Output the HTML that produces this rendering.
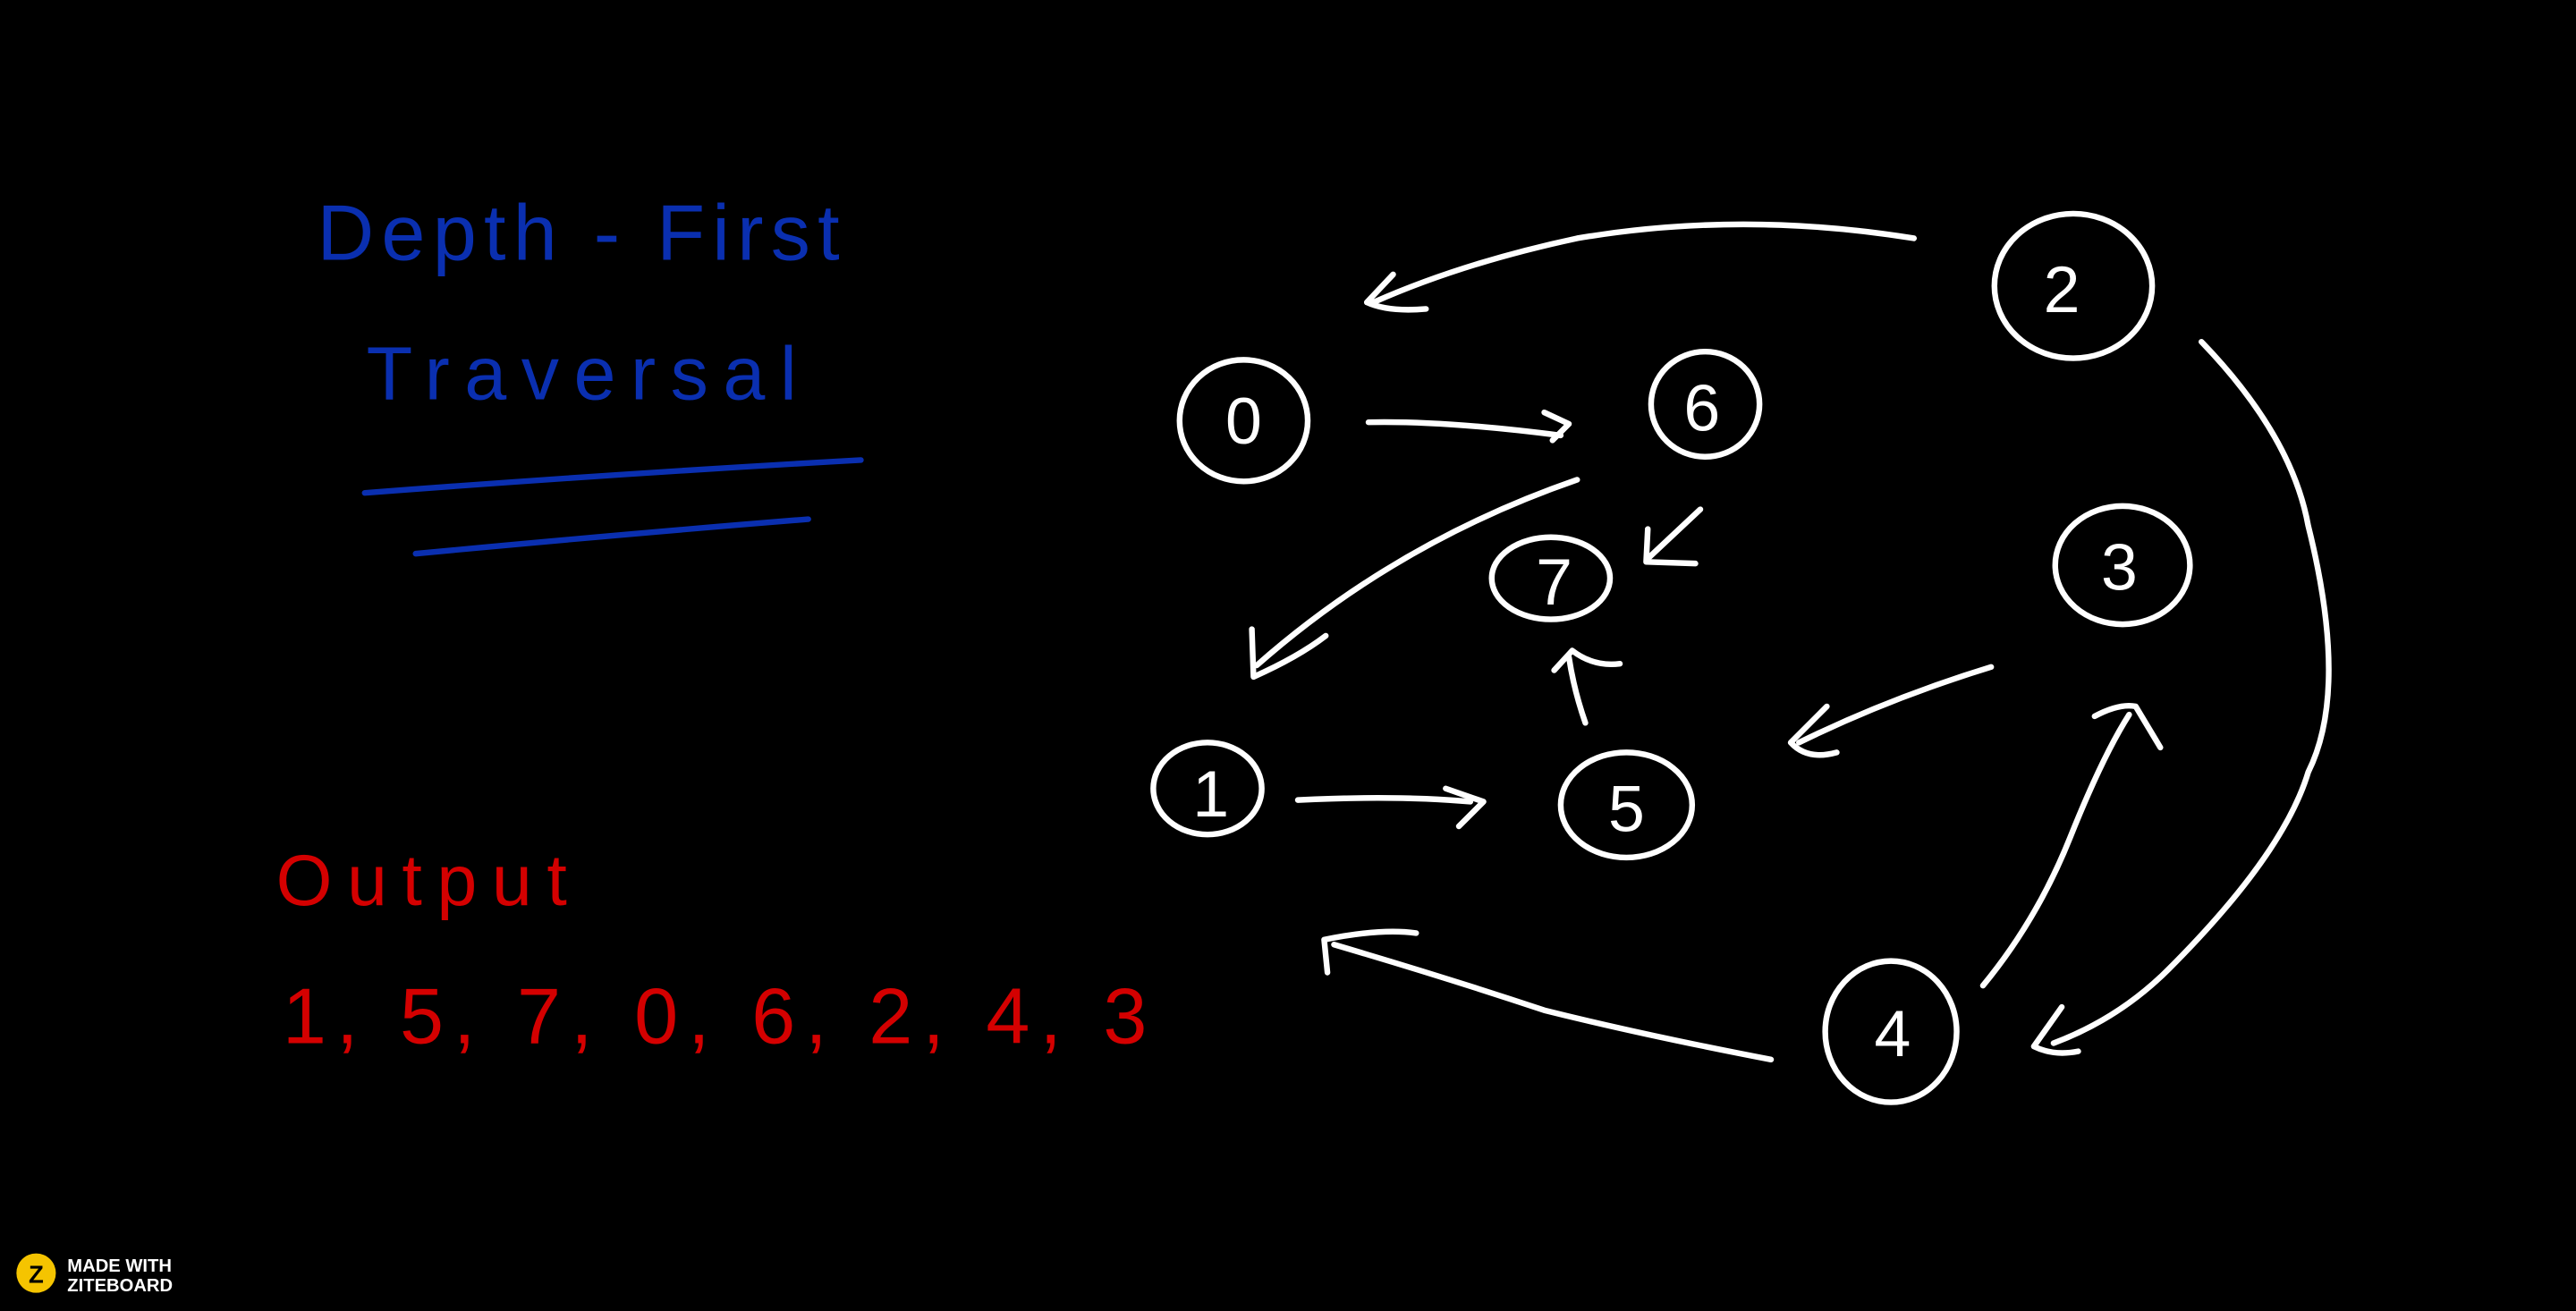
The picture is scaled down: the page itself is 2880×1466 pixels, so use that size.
<!DOCTYPE html>
<html>
<head>
<meta charset="utf-8">
<style>
html,body{margin:0;padding:0;background:#000;}
body{width:2880px;height:1466px;overflow:hidden;}
svg{display:block;}
text{font-family:"Liberation Sans",sans-serif;}
</style>
</head>
<body>
<svg width="2880" height="1466" viewBox="0 0 1568 798" xmlns="http://www.w3.org/2000/svg">
<rect width="1568" height="798" fill="#000"/>
<text x="193" y="158" font-size="48" fill="#0a2fb0" letter-spacing="4.5">Depth - First</text>
<text x="223" y="243" font-size="46" fill="#0a2fb0" letter-spacing="9">Traversal</text>
<g stroke="#0a2fb0" stroke-width="3.5" fill="none" stroke-linecap="round">
<path d="M222 300 Q380 288 524 280"/>
<path d="M253 337 Q380 325 492 316"/>
</g>
<text x="168" y="551" font-size="44" fill="#d40000" letter-spacing="9">Output</text>
<text x="172" y="635" font-size="48" fill="#d40000" letter-spacing="6">1, 5, 7, 0, 6, 2, 4, 3</text>
<g stroke="#fff" stroke-width="3.5" fill="none" stroke-linecap="round" stroke-linejoin="round">
<ellipse cx="757" cy="256" rx="39" ry="37"/>
<ellipse cx="1038" cy="246" rx="33" ry="32"/>
<ellipse cx="1262" cy="174" rx="48" ry="44"/>
<ellipse cx="944" cy="352" rx="36" ry="25"/>
<ellipse cx="1292" cy="344" rx="41" ry="36"/>
<ellipse cx="735" cy="480" rx="33" ry="28"/>
<ellipse cx="990" cy="490" rx="40" ry="32"/>
<ellipse cx="1151" cy="628" rx="40" ry="43"/>
<path d="M1165 145 Q1060 128 960 145 Q890 160 836 184"/>
<path d="M848 167 L832 184 Q845 190 868 188"/>
<path d="M833 257 Q880 256 950 265"/>
<path d="M940 251 L955 258 L945 268"/>
<path d="M960 292 Q850 330 765 405"/>
<path d="M762 383 L763 412 Q790 400 807 387"/>
<path d="M1035 310 L1003 340"/>
<path d="M1003 322 L1002 342 L1032 343"/>
<path d="M965 440 Q958 420 955 400"/>
<path d="M946 408 L957 396 Q970 406 986 404"/>
<path d="M790 487 Q850 484 895 488"/>
<path d="M880 480 L903 488 L888 503"/>
<path d="M1212 406 Q1150 425 1095 452"/>
<path d="M1112 430 L1090 452 Q1100 463 1118 458"/>
<path d="M1340 208 Q1395 265 1405 320 Q1430 420 1405 470 Q1390 520 1320 590 Q1290 620 1250 635"/>
<path d="M1255 613 L1238 637 Q1250 643 1265 640"/>
<path d="M1207 600 Q1240 560 1260 510 Q1280 460 1296 435"/>
<path d="M1275 436 Q1290 428 1300 430 L1315 455"/>
<path d="M1078 645 Q1000 630 940 615 Q880 595 812 575"/>
<path d="M808 592 L806 572 Q840 565 862 568"/>
</g>
<g fill="#fff" font-size="40" text-anchor="middle">
<text x="757" y="270">0</text>
<text x="1036" y="262">6</text>
<text x="1255" y="190">2</text>
<text x="946" y="368">7</text>
<text x="1290" y="359">3</text>
<text x="737" y="497">1</text>
<text x="990" y="506">5</text>
<text x="1152" y="643">4</text>
</g>
<circle cx="22" cy="775" r="12" fill="#f5c400"/>
<text x="22" y="781" font-size="15" font-weight="bold" fill="#000" text-anchor="middle">Z</text>
<text x="41" y="774" font-size="11" font-weight="bold" fill="#fff">MADE WITH</text>
<text x="41" y="786" font-size="11" font-weight="bold" fill="#fff">ZITEBOARD</text>
</svg>
</body>
</html>
